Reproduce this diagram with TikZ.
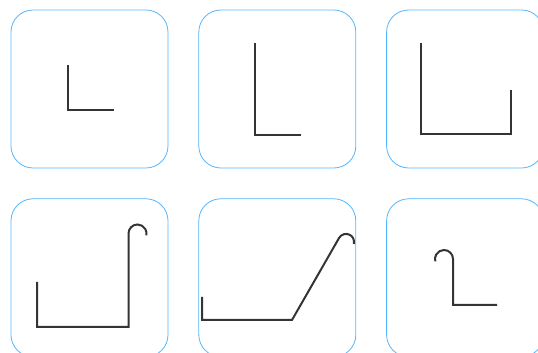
\documentclass[tikz,border=0pt]{standalone}
\usetikzlibrary{positioning}
\definecolor{panelblue}{RGB}{85,182,252}
\definecolor{strokegray}{RGB}{52,52,52}

\begin{document}
\begin{tikzpicture}[x=1pt,y=1pt,
  panel/.style={rectangle,draw=panelblue,line width=0.8pt,rounded corners=22pt,minimum width=157pt,minimum height=158pt,inner sep=0pt},
  stroke/.style={draw=strokegray,line width=2pt,line join=miter},
  node distance=30pt and 30pt
]
\useasboundingbox (0,0) rectangle (538,353);
% six panels, two rows
\node[panel] (p1) at (89.5,264) {};
\node[panel,right=of p1] (p2) {};
\node[panel,right=of p2] (p3) {};
\node[panel,below=of p1] (p4) {};
\node[panel,right=of p4] (p5) {};
\node[panel,right=of p5] (p6) {};
% bent profiles
\draw[stroke] (68,288) -- (68,243) -- (114,243);
\draw[stroke] (255,310) -- (255,218) -- (301,218);
\draw[stroke] (421,310) -- (421,219) -- (511,219) -- (511,263);
\draw[stroke] (37,71) -- (37,26) -- (128.5,26) -- (128.5,119.5)
  arc[start angle=180,end angle=-12,radius=9];
\draw[stroke] (202,56) -- (202,33) -- (292,33) -- (339.1,115.1)
  arc[start angle=150,end angle=-15,radius=8];
\draw[stroke] (497,48) -- (453,48) -- (453,94)
  arc[start angle=0,end angle=195,radius=9];
\end{tikzpicture}
\end{document}
